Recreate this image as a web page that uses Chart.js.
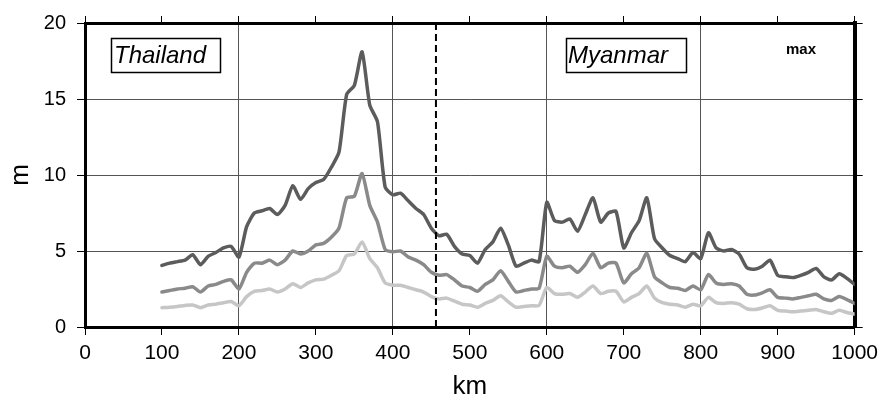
<!DOCTYPE html>
<html lang="en">

<head>
  <script src="https://cdn.jsdelivr.net/npm/chart.js@4.4.0/dist/chart.umd.min.js"></script>
  <title>Profile</title>
  <style>
    body { margin: 0; background: #fff; }
    #wrap { width: 884px; height: 402px; }
  </style>
</head>

<body>
  <div id="wrap"><canvas id="myChart"></canvas></div>

  <script>
    // distance along profile, km
    var km = [100, 110, 120, 130, 140, 150, 160, 170, 180, 190,
      200, 210, 220, 230, 240, 250, 260, 270, 280, 290,
      300, 310, 320, 330, 340, 350, 360, 370, 380, 390,
      400, 410, 420, 430, 440, 450, 460, 470, 480, 490,
      500, 510, 520, 530, 540, 550, 560, 570, 580, 590,
      600, 610, 620, 630, 640, 650, 660, 670, 680, 690,
      700, 710, 720, 730, 740, 750, 760, 770, 780, 790,
      800, 810, 820, 830, 840, 850, 860, 870, 880, 890,
      900, 910, 920, 930, 940, 950, 960, 970, 980, 990, 1000];

    // dark curve (max)
    var maxH = [4.05, 4.2, 4.3, 4.4, 4.75, 4.1, 4.65, 4.9, 5.2, 5.3,
      4.6, 6.6, 7.5, 7.65, 7.8, 7.4, 8.0, 9.3, 8.4, 9.1,
      9.5, 9.7, 10.5, 11.5, 15.3, 15.9, 18.1, 14.6, 13.5, 9.2,
      8.7, 8.8, 8.3, 7.8, 7.4, 6.5, 6.0, 6.1, 5.3, 4.8,
      4.7, 4.2, 5.1, 5.6, 6.5, 5.4, 4.0, 4.2, 4.4, 4.3,
      8.2, 7.0, 6.9, 7.1, 6.3, 7.4, 8.5, 6.9, 7.5, 7.6,
      5.2, 6.2, 7.0, 8.5, 5.8, 5.2, 4.7, 4.5, 4.3, 4.9,
      4.5, 6.2, 5.2, 5.0, 5.1, 4.8, 3.9, 3.8, 4.0, 4.4,
      3.4, 3.3, 3.25, 3.4, 3.6, 3.85, 3.3, 3.1, 3.5, 3.2, 2.8];

    // medium curve
    var midH = [2.3, 2.4, 2.5, 2.55, 2.65, 2.3, 2.7, 2.8, 3.0, 3.1,
      2.5, 3.6, 4.2, 4.2, 4.4, 4.1, 4.4, 5.0, 4.8, 5.0,
      5.4, 5.5, 5.9, 6.5, 8.5, 8.6, 10.1, 8.0, 6.9, 5.1,
      4.95, 5.0, 4.6, 4.4, 4.1, 3.6, 3.4, 3.45, 3.1, 2.7,
      2.6, 2.35, 2.8, 3.1, 3.7, 3.0, 2.3, 2.4, 2.5, 2.55,
      4.65, 4.0, 3.9, 4.0, 3.6, 4.1, 4.85, 3.9, 4.2, 4.2,
      2.9, 3.5, 3.9, 4.85, 3.3, 2.9, 2.6, 2.55, 2.4, 2.7,
      2.45, 3.45, 2.9, 2.8, 2.85, 2.7, 2.15, 2.1, 2.25, 2.45,
      1.95, 1.9, 1.85, 1.95, 2.05, 2.15, 1.85, 1.75, 2.0, 1.8, 1.55];

    // light curve
    var minH = [1.27, 1.3, 1.35, 1.42, 1.45, 1.27, 1.45, 1.5, 1.6, 1.68,
      1.4, 2.0, 2.35, 2.4, 2.5, 2.3, 2.5, 2.85, 2.6, 2.9,
      3.1, 3.15, 3.4, 3.7, 4.7, 4.8, 5.6, 4.5, 3.9, 2.9,
      2.75, 2.75, 2.6, 2.45, 2.3, 2.0, 1.85, 1.9, 1.7, 1.5,
      1.45, 1.3, 1.55, 1.75, 2.05, 1.65, 1.3, 1.35, 1.4, 1.42,
      2.6, 2.2, 2.15, 2.2, 1.95, 2.3, 2.7, 2.2, 2.35, 2.35,
      1.65, 1.95, 2.2, 2.7, 1.9, 1.6, 1.5, 1.45, 1.3, 1.5,
      1.4, 1.95, 1.6, 1.55, 1.6, 1.5, 1.2, 1.15, 1.25, 1.4,
      1.1, 1.05, 1.0, 1.05, 1.1, 1.15, 1.0, 0.9, 1.1, 0.95, 0.85];

    var borderKm = 456;
    var xTicks = [0, 100, 200, 300, 400, 500, 600, 700, 800, 900, 1000];
    var yTicks = [0, 5, 10, 15, 20];

    function pts(ys) {
      return km.map(function(k, i) { return { x: k, y: ys[i] }; });
    }

    var FONT = "'Liberation Sans', Arial, sans-serif";

    // dashed border line + country labels
    var extras = {
      id: 'extras',
      afterDatasetsDraw: function(chart) {
        var ctx = chart.ctx;
        var a = chart.chartArea;
        var px = chart.scales.x.getPixelForValue(borderKm);
        ctx.save();
        ctx.strokeStyle = '#000';
        ctx.lineWidth = 2;
        ctx.setLineDash([7, 4]);
        ctx.beginPath();
        ctx.moveTo(px, a.top);
        ctx.lineTo(px, a.bottom);
        ctx.stroke();
        ctx.setLineDash([]);

        ctx.font = 'italic 24px ' + FONT;
        ctx.textBaseline = 'middle';
        ctx.textAlign = 'left';
        ctx.fillStyle = '#000';
        ctx.lineWidth = 1.5;
        ctx.fillText('Thailand', 114, 56);
        ctx.strokeRect(111.5, 38.5, 109, 34);
        ctx.fillText('Myanmar', 568, 56);
        ctx.strokeRect(566.5, 38.5, 120, 34);

        ctx.font = 'bold 15px ' + FONT;
        ctx.textAlign = 'center';
        ctx.fillText('max', 801, 50);
        ctx.restore();
      }
    };

    var gridCol = function(c) {
      var v = c.tick.value;
      return (v % 200 === 0 && v > 0 && v < 1000) ? '#555' : 'rgba(0,0,0,0)';
    };
    var yGridCol = function(c) {
      var v = c.tick.value;
      return (v > 0 && v < 20) ? '#555' : 'rgba(0,0,0,0)';
    };

    function line(label, ys, colour) {
      return {
        label: label,
        data: pts(ys),
        borderColor: colour,
        borderWidth: 3.5,
        pointRadius: 0,
        tension: 0.2,
        borderJoinStyle: 'round',
        borderCapStyle: 'round'
      };
    }

    var config = {
      type: 'line',
      data: {
        datasets: [
          line('min', minH, '#c6c6c6'),
          line('mid', midH, '#8a8a8a'),
          line('max', maxH, '#5c5c5c')
        ]
      },
      options: {
        responsive: true,
        maintainAspectRatio: false,
        animation: false,
        layout: { padding: 0 },
        plugins: {
          legend: { display: false },
          tooltip: { enabled: false }
        },
        scales: {
          x: {
            type: 'linear',
            position: 'bottom',
            min: 0,
            max: 1000,
            afterFit: function(s) { s.height = 75; },
            afterBuildTicks: function(s) { s.ticks = xTicks.map(function(v) { return { value: v }; }); },
            grid: { color: gridCol, lineWidth: 1, tickLength: 8, tickColor: '#000', tickWidth: 1 },
            border: { display: true, color: '#000', width: 3 },
            ticks: {
              color: '#000', font: { size: 21, family: FONT }, padding: 6, maxRotation: 0,
              callback: function(v) { return String(v); }
            },
            title: { display: true, text: 'km', color: '#000', font: { size: 26, family: FONT }, padding: { top: 2, bottom: 0 } }
          },
          x2: {
            type: 'linear',
            position: 'top',
            min: 0,
            max: 1000,
            afterFit: function(s) { s.height = 17; },
            afterBuildTicks: function(s) { s.ticks = xTicks.map(function(v) { return { value: v }; }); },
            grid: { drawOnChartArea: false, tickLength: 7, tickColor: '#000', tickWidth: 1 },
            border: { display: true, color: '#000', width: 3 },
            ticks: { callback: function() { return ''; } }
          },
          y: {
            position: 'left',
            min: 0,
            max: 20,
            afterFit: function(s) { s.width = 85; },
            afterBuildTicks: function(s) { s.ticks = yTicks.map(function(v) { return { value: v }; }); },
            grid: { color: yGridCol, lineWidth: 1, tickLength: 8, tickColor: '#000', tickWidth: 1 },
            border: { display: true, color: '#000', width: 3 },
            ticks: { color: '#000', font: { size: 20, family: FONT }, padding: 11 },
            title: { display: true, text: 'm', color: '#000', font: { size: 26, family: FONT }, padding: { top: 5, bottom: 0 } }
          },
          y2: {
            position: 'right',
            min: 0,
            max: 20,
            afterFit: function(s) { s.width = 27; },
            afterBuildTicks: function(s) { s.ticks = yTicks.map(function(v) { return { value: v }; }); },
            grid: { drawOnChartArea: false, tickLength: 8, tickColor: '#000', tickWidth: 1 },
            border: { display: true, color: '#000', width: 4 },
            ticks: { callback: function() { return ''; } }
          }
        }
      },
      plugins: [extras]
    };

    var myChart = new Chart(document.getElementById('myChart'), config);
  </script>
</body>

</html>
